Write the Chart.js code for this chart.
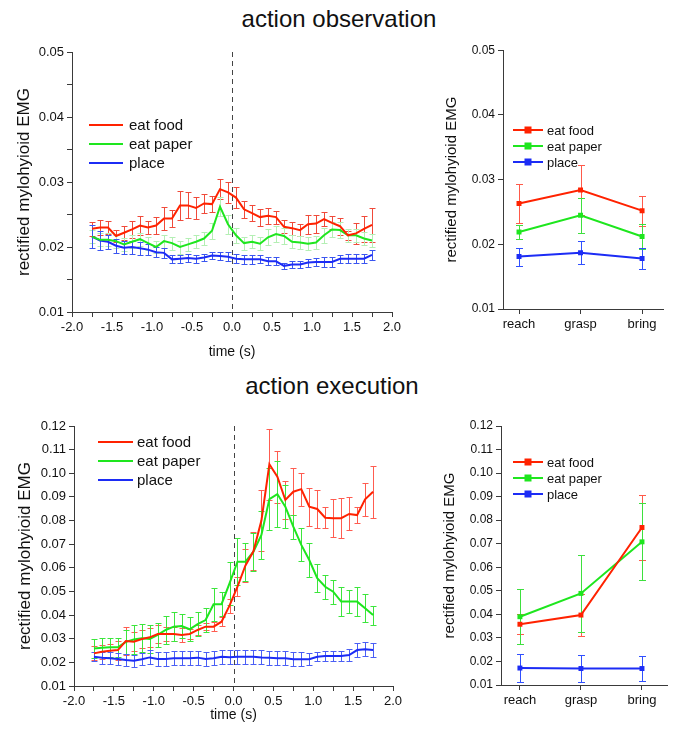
<!DOCTYPE html>
<html>
<head>
<meta charset="utf-8">
<script src="https://cdn.jsdelivr.net/npm/chart.js@4.4.1/dist/chart.umd.min.js"></script>
<style>
  body { margin: 0; background: #fff; }
  #fig { position: relative; width: 684px; height: 736px; font-family: "Liberation Sans", Arial, sans-serif; color: #111; }
  #fig canvas { position: absolute; }
  .title { position: absolute; left: 0; text-align: center; font-size: 24px; line-height: 1; }
</style>
</head>
<body>
<div id="fig">
  <div class="title" style="top:7px; width:678px;">action observation</div>
  <div class="title" style="top:374px; width:664px;">action execution</div>
  <canvas id="obsTime" width="410" height="330" style="left:0; top:40px;"></canvas>
  <canvas id="obsPhase" width="244" height="300" style="left:440px; top:40px;"></canvas>
  <canvas id="exeTime" width="410" height="326" style="left:0; top:410px;"></canvas>
  <canvas id="exePhase" width="244" height="326" style="left:440px; top:410px;"></canvas>
</div>

<script>
// time bins (s), relative to movement onset
const times = [-1.75, -1.65, -1.55, -1.45, -1.35, -1.25, -1.15, -1.05, -0.95, -0.85, -0.75, -0.65,
  -0.55, -0.45, -0.35, -0.25, -0.15, -0.05, 0.05, 0.15, 0.25, 0.35, 0.45, 0.55,
  0.65, 0.75, 0.85, 0.95, 1.05, 1.15, 1.25, 1.35, 1.45, 1.55, 1.65, 1.75];
const phases = ["reach", "grasp", "bring"];
const seriesNames = ["eat food", "eat paper", "place"];

// action observation, time course
const obsFood = [0.0228, 0.0230, 0.0230, 0.0217, 0.0222, 0.0227, 0.0233, 0.0230, 0.0233, 0.0244, 0.0244, 0.0264,
  0.0264, 0.0260, 0.0267, 0.0266, 0.0289, 0.0284, 0.0276, 0.0258, 0.0252, 0.0246, 0.0248, 0.0246,
  0.0231, 0.0229, 0.0226, 0.0235, 0.0236, 0.0243, 0.0237, 0.0232, 0.0218, 0.0221, 0.0228, 0.0234];
const obsFoodErr = [0.0011, 0.0012, 0.0010, 0.0009, 0.0011, 0.0013, 0.0014, 0.0010, 0.0013, 0.0018, 0.0013, 0.0022,
  0.0020, 0.0017, 0.0014, 0.0012, 0.0015, 0.0016, 0.0016, 0.0013, 0.0012, 0.0013, 0.0012, 0.0010,
  0.0010, 0.0010, 0.0009, 0.0015, 0.0014, 0.0011, 0.0010, 0.0013, 0.0007, 0.0016, 0.0020, 0.0026];
const obsPaper = [0.0216, 0.0211, 0.0211, 0.0209, 0.0204, 0.0208, 0.0212, 0.0206, 0.0200, 0.0209, 0.0206, 0.0200,
  0.0204, 0.0208, 0.0213, 0.0225, 0.0262, 0.0235, 0.0218, 0.0206, 0.0208, 0.0205, 0.0215, 0.0220,
  0.0217, 0.0208, 0.0207, 0.0205, 0.0207, 0.0218, 0.0227, 0.0226, 0.0218, 0.0218, 0.0213, 0.0210];
const obsPaperErr = [0.0010, 0.0010, 0.0010, 0.0010, 0.0010, 0.0010, 0.0010, 0.0010, 0.0009, 0.0010, 0.0010, 0.0010,
  0.0010, 0.0010, 0.0010, 0.0012, 0.0015, 0.0015, 0.0012, 0.0010, 0.0010, 0.0010, 0.0012, 0.0012,
  0.0012, 0.0010, 0.0010, 0.0010, 0.0010, 0.0012, 0.0012, 0.0012, 0.0010, 0.0010, 0.0010, 0.0010];
const obsPlace = [0.0216, 0.0210, 0.0208, 0.0202, 0.0199, 0.0200, 0.0198, 0.0196, 0.0192, 0.0191, 0.0181, 0.0182,
  0.0183, 0.0182, 0.0184, 0.0187, 0.0186, 0.0185, 0.0182, 0.0181, 0.0181, 0.0181, 0.0178, 0.0178,
  0.0171, 0.0173, 0.0173, 0.0176, 0.0177, 0.0177, 0.0177, 0.0182, 0.0182, 0.0182, 0.0182, 0.0188];
const obsPlaceErr = [0.0018, 0.0014, 0.0011, 0.0011, 0.0010, 0.0010, 0.0010, 0.0009, 0.0008, 0.0008, 0.0006, 0.0006,
  0.0006, 0.0006, 0.0006, 0.0006, 0.0006, 0.0007, 0.0007, 0.0007, 0.0007, 0.0006, 0.0006, 0.0006,
  0.0005, 0.0005, 0.0005, 0.0006, 0.0006, 0.0007, 0.0007, 0.0006, 0.0007, 0.0007, 0.0007, 0.0008];

// action execution, time course
const exeFood = [0.0238, 0.0245, 0.0249, 0.0252, 0.0290, 0.0287, 0.0299, 0.0306, 0.0320, 0.0320, 0.0320, 0.0316,
  0.0320, 0.0337, 0.0351, 0.0351, 0.0372, 0.0440, 0.0520, 0.0610, 0.0670, 0.0800, 0.1038, 0.0986,
  0.0887, 0.0922, 0.0933, 0.0859, 0.0849, 0.0812, 0.0810, 0.0810, 0.0828, 0.0823, 0.0890, 0.0922];
const exeFoodErr = [0.003, 0.003, 0.003, 0.004, 0.006, 0.004, 0.004, 0.004, 0.004, 0.003, 0.003, 0.003,
  0.002, 0.002, 0.0015, 0.002, 0.002, 0.003, 0.004, 0.007, 0.008, 0.013, 0.015, 0.011,
  0.008, 0.010, 0.007, 0.008, 0.008, 0.0045, 0.008, 0.0085, 0.007, 0.0035, 0.007, 0.011];
const exePaper = [0.0259, 0.0262, 0.0264, 0.0264, 0.0287, 0.0297, 0.0302, 0.0299, 0.0316, 0.0337, 0.0351, 0.0354,
  0.0340, 0.0362, 0.0379, 0.0446, 0.0446, 0.0534, 0.0626, 0.0626, 0.0668, 0.0739, 0.0891, 0.0912,
  0.0859, 0.0774, 0.0697, 0.0633, 0.0556, 0.0520, 0.0499, 0.0457, 0.0457, 0.0457, 0.0429, 0.0400];
const exePaperErr = [0.004, 0.004, 0.004, 0.004, 0.005, 0.006, 0.006, 0.006, 0.005, 0.006, 0.006, 0.005,
  0.005, 0.005, 0.005, 0.007, 0.005, 0.009, 0.010, 0.008, 0.008, 0.010, 0.013, 0.014,
  0.009, 0.005, 0.007, 0.007, 0.006, 0.005, 0.005, 0.006, 0.005, 0.006, 0.006, 0.004];
const exePlace = [0.0224, 0.0220, 0.0217, 0.0214, 0.0210, 0.0207, 0.0213, 0.0221, 0.0214, 0.0214, 0.0217, 0.0217,
  0.0217, 0.0220, 0.0214, 0.0217, 0.0224, 0.0222, 0.0224, 0.0224, 0.0224, 0.0221, 0.0220, 0.0217,
  0.0217, 0.0213, 0.0213, 0.0213, 0.0224, 0.0227, 0.0227, 0.0227, 0.0231, 0.0252, 0.0255, 0.0252];
const exePlaceErr = [0.002, 0.0025, 0.0025, 0.0025, 0.0025, 0.0025, 0.0025, 0.003, 0.003, 0.003, 0.003, 0.003,
  0.003, 0.003, 0.003, 0.003, 0.003, 0.003, 0.003, 0.003, 0.003, 0.003, 0.003, 0.003,
  0.003, 0.003, 0.003, 0.0025, 0.002, 0.002, 0.002, 0.002, 0.0025, 0.003, 0.003, 0.003];

// means per movement phase
const obsPhaseFood = [0.0263, 0.0284, 0.0252];
const obsPhaseFoodErr = [0.0030, 0.0038, 0.0023];
const obsPhasePaper = [0.0219, 0.0245, 0.0212];
const obsPhasePaperErr = [0.0011, 0.0027, 0.0020];
const obsPhasePlace = [0.0181, 0.0187, 0.0178];
const obsPhasePlaceErr = [0.0014, 0.0018, 0.0016];
const exePhaseFood = [0.0358, 0.0397, 0.0769];
const exePhaseFoodErr = [0.0043, 0.0090, 0.0137];
const exePhasePaper = [0.0390, 0.0489, 0.0708];
const exePhasePaperErr = [0.0116, 0.0165, 0.0164];
const exePhasePlace = [0.0172, 0.0170, 0.0170];
const exePhasePlaceErr = [0.0060, 0.0058, 0.0055];

const ONSET = 0;

const FONT = '"Liberation Sans", Arial, sans-serif';
const RED = "#ff2200", GREEN = "#1ee61e", BLUE = "#1c2cf5";
const AXIS = "#3a3a3a";

Chart.defaults.font.family = FONT;
Chart.defaults.color = "#111";

// vertical error bars from dataset.errors
const errorBars = {
  id: "errorBars",
  beforeDatasetsDraw(chart, args, opts) {
    const ctx = chart.ctx;
    const xs = chart.scales.x, ys = chart.scales.y;
    const cap = opts.cap || 3;
    chart.data.datasets.forEach(ds => {
      if (!ds.errors) return;
      ctx.save();
      ctx.strokeStyle = ds.errorColor;
      ctx.lineWidth = 1;
      ds.data.forEach((p, i) => {
        const x = Math.round(xs.getPixelForValue(p.x)) + 0.5;
        const y1 = Math.round(ys.getPixelForValue(p.y - ds.errors[i])) + 0.5;
        const y2 = Math.round(ys.getPixelForValue(p.y + ds.errors[i])) + 0.5;
        ctx.beginPath();
        ctx.moveTo(x, y1); ctx.lineTo(x, y2);
        ctx.moveTo(x - cap, y1); ctx.lineTo(x + cap, y1);
        ctx.moveTo(x - cap, y2); ctx.lineTo(x + cap, y2);
        ctx.stroke();
      });
      ctx.restore();
    });
  }
};

// dashed line at movement onset
const onsetLine = {
  id: "onsetLine",
  beforeDatasetsDraw(chart, args, opts) {
    if (opts.value === undefined) return;
    const ctx = chart.ctx, a = chart.chartArea;
    const x = Math.round(chart.scales.x.getPixelForValue(opts.value)) + 0.5;
    ctx.save();
    ctx.strokeStyle = "#444";
    ctx.lineWidth = 1;
    ctx.setLineDash([5, 4]);
    ctx.beginPath();
    ctx.moveTo(x, a.top);
    ctx.lineTo(x, a.bottom);
    ctx.stroke();
    ctx.restore();
  }
};

// legend drawn inside the plot
const insideLegend = {
  id: "insideLegend",
  afterDraw(chart, args, o) {
    const ctx = chart.ctx;
    ctx.save();
    ctx.font = o.fontSize + "px " + FONT;
    ctx.textBaseline = "middle";
    chart.data.datasets.forEach((ds, i) => {
      const y = o.y + i * o.rowGap;
      ctx.strokeStyle = ds.borderColor;
      ctx.lineWidth = 2;
      ctx.beginPath();
      ctx.moveTo(o.x, y);
      ctx.lineTo(o.x + o.lineLen, y);
      ctx.stroke();
      if (o.marker) {
        ctx.fillStyle = ds.borderColor;
        ctx.fillRect(o.x + o.lineLen / 2 - 3.5, y - 3.5, 7, 7);
      }
      ctx.fillStyle = "#111";
      ctx.fillText(ds.label, o.x + o.lineLen + o.gap, y + 1);
    });
    ctx.restore();
  }
};

function series(xs, ys) {
  return xs.map((x, i) => ({ x: x, y: ys[i] }));
}

function axisStyle() {
  return {
    grid: { display: true, drawOnChartArea: false, drawTicks: true, tickLength: 5, color: AXIS },
    border: { display: true, color: AXIS, width: 1 }
  };
}

function timeChart(id, vals, errs, errColors, y, lay) {
  const colors = [RED, GREEN, BLUE];
  return new Chart(document.getElementById(id), {
    type: "line",
    data: {
      datasets: vals.map((v, k) => ({
        label: seriesNames[k],
        data: series(times, v),
        errors: errs[k],
        errorColor: errColors[k],
        borderColor: colors[k],
        borderWidth: 2,
        pointRadius: 0,
        tension: 0,
        fill: false
      }))
    },
    options: {
      responsive: false,
      devicePixelRatio: 1,
      animation: false,
      layout: { padding: { top: lay.top, right: lay.right, left: 0, bottom: 0 } },
      scales: {
        x: {
          type: "linear", min: -2, max: 2,
          ...axisStyle(),
          afterFit: s => { s.height = lay.xHeight; },
          ticks: {
            stepSize: 0.25, autoSkip: false, maxRotation: 0, padding: 3,
            font: { size: 13 }, color: "#111",
            callback: v => Math.abs(v * 2 - Math.round(v * 2)) < 1e-6 ? v.toFixed(1) : ""
          },
          title: { display: true, text: "time (s)", font: { size: 14 }, color: "#111", padding: { top: 0, bottom: lay.xTitlePad } }
        },
        y: {
          min: y.min, max: y.max,
          ...axisStyle(),
          afterFit: s => { s.width = lay.yWidth; },
          ticks: {
            stepSize: y.step, autoSkip: false, padding: 3,
            font: { size: 13 }, color: "#111",
            callback: v => Math.abs(v * 100 - Math.round(v * 100)) < 1e-6 ? v.toFixed(2) : ""
          },
          title: { display: true, text: "rectified mylohyioid EMG", font: { size: 17 }, color: "#111", padding: { top: lay.yTitlePad, bottom: 0 } }
        }
      },
      plugins: {
        legend: { display: false },
        tooltip: { enabled: false },
        errorBars: { cap: 3 },
        onsetLine: { value: ONSET },
        insideLegend: lay.legend
      }
    },
    plugins: [errorBars, onsetLine, insideLegend]
  });
}

function phaseChart(id, vals, errs, errColors, y, lay) {
  const colors = [RED, GREEN, BLUE];
  const idx = phases.map((p, i) => i);
  return new Chart(document.getElementById(id), {
    type: "line",
    data: {
      datasets: vals.map((v, k) => ({
        label: seriesNames[k],
        data: series(idx, v),
        errors: errs[k],
        errorColor: errColors[k],
        borderColor: colors[k],
        backgroundColor: colors[k],
        borderWidth: 2,
        pointStyle: "rect",
        pointRadius: 3.5,
        pointBorderWidth: 0,
        tension: 0,
        fill: false
      }))
    },
    options: {
      responsive: false,
      devicePixelRatio: 1,
      animation: false,
      layout: { padding: { top: lay.top, right: lay.right, left: 0, bottom: 0 } },
      scales: {
        x: {
          type: "linear", min: lay.xMin, max: lay.xMax,
          ...axisStyle(),
          afterFit: s => { s.height = lay.xHeight; },
          afterBuildTicks: s => { s.ticks = idx.map(i => ({ value: i })); },
          ticks: {
            autoSkip: false, maxRotation: 0, padding: 3,
            font: { size: 13 }, color: "#111",
            callback: v => phases[v]
          }
        },
        y: {
          min: y.min, max: y.max,
          ...axisStyle(),
          afterFit: s => { s.width = lay.yWidth; },
          ticks: {
            stepSize: y.step, autoSkip: false, padding: 3,
            font: { size: 12 }, color: "#111",
            callback: v => v.toFixed(2)
          },
          title: { display: true, text: "rectified mylohyioid EMG", font: { size: 15 }, color: "#111", padding: { top: lay.yTitlePad, bottom: 0 } }
        }
      },
      plugins: {
        legend: { display: false },
        tooltip: { enabled: false },
        errorBars: { cap: 3.5 },
        insideLegend: lay.legend
      }
    },
    plugins: [errorBars, insideLegend]
  });
}

timeChart("obsTime",
  [obsFood, obsPaper, obsPlace],
  [obsFoodErr, obsPaperErr, obsPlaceErr],
  ["#f04a3a", "#b4efb4", "#3a55f0"],
  { min: 0.01, max: 0.05, step: 0.005 },
  { top: 12, right: 18, yWidth: 72, xHeight: 58, xTitlePad: 9, yTitlePad: 14,
    legend: { x: 89, y: 85, rowGap: 19, lineLen: 34, gap: 6, fontSize: 15 } });

phaseChart("obsPhase",
  [obsPhaseFood, obsPhasePaper, obsPhasePlace],
  [obsPhaseFoodErr, obsPhasePaperErr, obsPhasePlaceErr],
  ["#ff5a4a", "#3ee03e", "#3050ff"],
  { min: 0.01, max: 0.05, step: 0.01 },
  { top: 9, right: 21, yWidth: 63, xHeight: 31, yTitlePad: 3, xMin: -0.26, xMax: 2.34,
    legend: { x: 73, y: 90, rowGap: 16, lineLen: 30, gap: 4, fontSize: 13, marker: true } });

timeChart("exeTime",
  [exeFood, exePaper, exePlace],
  [exeFoodErr, exePaperErr, exePlaceErr],
  ["#ff5c50", "#3ce63c", "#4a5ef5"],
  { min: 0.01, max: 0.12, step: 0.01 },
  { top: 16, right: 17, yWidth: 74, xHeight: 50, xTitlePad: 12, yTitlePad: 15,
    legend: { x: 98, y: 32, rowGap: 19, lineLen: 35, gap: 4, fontSize: 15 } });

phaseChart("exePhase",
  [exePhaseFood, exePhasePaper, exePhasePlace],
  [exePhaseFoodErr, exePhasePaperErr, exePhasePlaceErr],
  ["#ff5a4a", "#3ee03e", "#3050ff"],
  { min: 0.01, max: 0.12, step: 0.01 },
  { top: 16, right: 17, yWidth: 61, xHeight: 51, yTitlePad: 1, xMin: -0.31, xMax: 2.41,
    legend: { x: 73, y: 52, rowGap: 16, lineLen: 30, gap: 4, fontSize: 13, marker: true } });
</script>
</body>
</html>
